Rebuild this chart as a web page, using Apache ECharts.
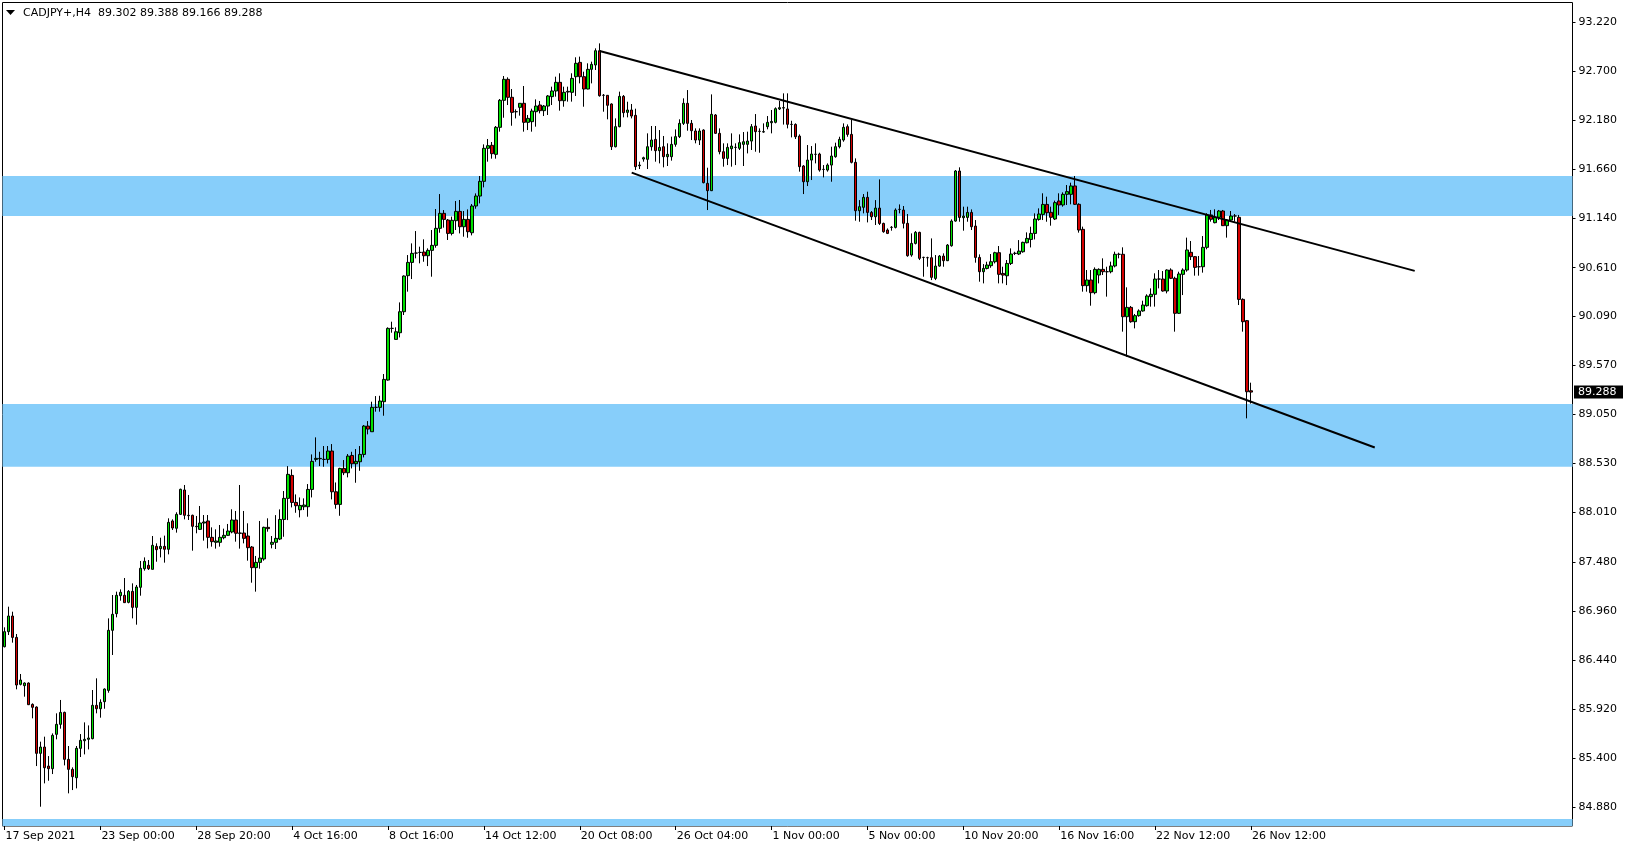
<!DOCTYPE html>
<html>
<head>
<meta charset="utf-8">
<script src="https://cdn.jsdelivr.net/npm/echarts@6.0.0/dist/echarts.min.js"></script>
<style>
html,body{margin:0;padding:0;background:#fff;}
#chart{width:1629px;height:850px;}
</style>
</head>
<body>
<div id="chart"></div>
<script>
// ---- data (CADJPY+, H4) ----
const symbolTitle = 'CADJPY+,H4  89.302 89.388 89.166 89.288';
const tickLabels = ['17 Sep 2021','23 Sep 00:00','28 Sep 20:00','4 Oct 16:00','8 Oct 16:00','14 Oct 12:00','20 Oct 08:00','26 Oct 04:00','1 Nov 00:00','5 Nov 00:00','10 Nov 20:00','16 Nov 16:00','22 Nov 12:00','26 Nov 12:00'];
const tickStep = 24;
const categoryCount = 393;
const yTicks = [93.22,92.70,92.18,91.66,91.14,90.61,90.09,89.57,89.05,88.53,88.01,87.48,86.96,86.44,85.92,85.40,84.88];
const yMin = 84.6781, yMax = 93.4272;
const lastPrice = 89.288;

const opens = [
86.583,86.743,86.909,86.682,86.183,86.169,86.197,85.970,85.942,85.450,85.517,85.315,85.287,85.652,85.758,85.885,85.386,85.280,85.191,85.503,
85.584,85.599,85.606,85.960,85.924,85.999,86.119,86.757,86.934,87.125,87.129,87.054,87.171,87.001,87.214,87.412,87.448,87.405,87.649,87.625,
87.649,87.618,87.919,87.841,87.989,88.248,87.979,87.979,87.862,87.830,87.897,87.919,87.745,87.692,87.692,87.741,87.766,87.802,87.929,87.791,
87.791,87.759,87.642,87.423,87.479,87.515,87.851,87.671,87.692,87.727,87.935,88.159,88.403,88.116,88.038,88.070,88.070,88.254,88.573,88.580,
88.573,88.573,88.662,88.229,88.095,88.477,88.431,88.615,88.527,88.548,88.626,88.927,88.867,89.126,89.126,89.186,89.416,89.965,89.848,89.919,
90.142,90.525,90.666,90.765,90.772,90.776,90.737,90.794,90.847,91.028,91.187,91.116,90.974,91.109,91.208,91.045,91.123,90.981,91.265,91.371,
91.527,91.878,91.910,91.814,92.101,92.388,92.611,92.420,92.267,92.313,92.356,92.154,92.161,92.267,92.338,92.278,92.327,92.427,92.487,92.579,
92.384,92.476,92.473,92.639,92.791,92.639,92.508,92.717,92.763,92.915,92.441,92.441,92.349,91.895,92.108,92.430,92.260,92.285,92.228,91.693,
91.764,91.761,91.895,91.973,91.853,91.895,91.789,91.789,91.920,92.002,92.143,92.356,92.143,92.062,91.966,92.072,91.506,91.428,92.232,92.037,
91.842,91.771,91.874,91.888,91.878,91.920,91.920,91.955,92.115,92.058,92.051,92.108,92.150,92.154,92.296,92.306,92.296,92.132,92.132,92.008,
91.690,91.523,91.753,91.814,91.817,91.654,91.647,91.700,91.789,91.895,91.966,92.108,92.026,91.729,91.215,91.251,91.357,91.197,91.151,91.243,
91.080,91.010,91.038,91.038,91.229,91.222,91.081,90.744,90.868,90.985,90.719,90.716,90.716,90.496,90.627,90.733,90.684,90.843,91.105,91.637,
91.141,91.144,91.197,91.052,90.719,90.567,90.602,90.631,90.673,90.769,90.549,90.524,90.655,90.762,90.755,90.779,90.875,90.910,90.974,91.123,
91.176,91.282,91.198,91.127,91.318,91.276,91.389,91.389,91.478,91.283,91.017,90.419,90.479,90.344,90.532,90.592,90.567,90.567,90.628,90.752,
90.752,90.089,90.188,90.036,90.100,90.150,90.206,90.302,90.327,90.489,90.489,90.362,90.585,90.497,90.125,90.539,90.585,90.773,90.727,90.620,
90.620,90.826,91.170,91.088,91.145,91.212,91.056,91.116,91.159,91.145,90.273,90.047,89.302];

const highs = [
86.789,87.008,86.955,86.718,86.293,86.204,86.204,85.981,85.949,85.574,85.627,85.421,85.662,85.875,86.017,85.893,85.528,85.301,85.528,85.655,
85.779,85.747,86.123,86.247,86.024,86.140,86.884,87.132,87.168,87.192,87.313,87.185,87.256,87.239,87.494,87.532,87.504,87.759,87.681,87.741,
87.763,87.947,87.936,88.011,88.262,88.301,88.195,87.986,87.972,88.078,87.982,87.982,87.851,87.830,87.876,87.837,87.887,88.043,88.025,88.301,
88.025,87.894,87.653,87.547,87.919,87.858,87.947,87.759,87.981,88.042,88.237,88.502,88.467,88.201,88.169,88.159,88.311,88.626,88.807,88.654,
88.715,88.715,88.736,88.328,88.484,88.566,88.630,88.654,88.683,88.715,88.938,88.980,89.186,89.246,89.249,89.480,89.976,90.036,89.976,90.241,
90.528,90.744,90.868,90.999,90.833,90.911,90.815,91.010,91.233,91.392,91.222,91.127,91.152,91.318,91.329,91.212,91.229,91.286,91.399,91.584,
91.920,91.977,91.945,92.115,92.402,92.646,92.632,92.508,92.292,92.356,92.540,92.232,92.299,92.398,92.381,92.338,92.444,92.533,92.639,92.675,
92.533,92.533,92.675,92.845,92.852,92.692,92.781,92.799,92.940,92.993,92.455,92.444,92.356,92.196,92.480,92.444,92.373,92.349,92.299,91.736,
91.789,92.037,92.115,92.115,92.072,92.009,91.931,92.002,92.079,92.186,92.409,92.497,92.179,92.090,92.090,92.080,91.672,92.451,92.242,92.090,
91.931,91.931,92.037,91.931,92.026,92.051,92.055,92.136,92.242,92.090,92.143,92.221,92.285,92.313,92.381,92.462,92.462,92.171,92.143,92.026,
91.700,91.913,91.902,91.931,91.831,91.700,91.718,91.895,91.938,92.001,92.143,92.132,92.179,91.771,91.328,91.392,91.417,91.212,91.328,91.548,
91.088,91.027,91.052,91.240,91.282,91.265,91.180,90.974,90.999,90.992,90.726,90.726,90.921,90.744,90.744,90.762,90.861,91.123,91.647,91.676,
91.258,91.258,91.229,91.116,90.751,90.648,90.673,90.755,90.779,90.840,90.620,90.691,90.815,90.779,90.903,90.886,90.985,91.045,91.187,91.240,
91.400,91.364,91.258,91.322,91.400,91.410,91.488,91.513,91.584,91.294,91.046,90.585,90.585,90.613,90.603,90.709,90.620,90.674,90.780,90.769,
90.826,90.401,90.203,90.118,90.167,90.259,90.327,90.390,90.550,90.585,90.574,90.592,90.603,90.514,90.567,90.603,90.929,90.893,90.734,90.734,
90.946,91.188,91.223,91.230,91.223,91.223,91.127,91.212,91.180,91.170,90.284,90.054,89.388];

const lows = [
86.576,86.707,86.626,86.130,86.172,86.052,85.963,85.822,85.315,84.883,85.131,85.159,85.230,85.599,85.712,85.322,85.025,85.060,85.078,85.411,
85.439,85.492,85.599,85.875,85.829,85.924,86.094,86.495,86.895,87.072,87.051,87.044,86.884,86.817,87.125,87.391,87.398,87.405,87.486,87.532,
87.476,87.564,87.823,87.795,87.982,87.936,87.929,87.603,87.788,87.823,87.710,87.628,87.646,87.625,87.646,87.724,87.759,87.788,87.699,87.625,
87.681,87.497,87.263,87.168,87.412,87.497,87.805,87.628,87.621,87.716,87.751,87.928,88.063,88.006,87.957,88.035,87.964,88.169,88.548,88.502,
88.495,88.530,88.148,88.049,87.974,88.406,88.382,88.477,88.325,88.452,88.594,88.839,88.867,89.080,89.080,89.037,89.409,89.919,89.848,89.869,
90.107,90.355,90.489,90.709,90.656,90.673,90.627,90.514,90.822,90.981,91.035,90.904,90.953,91.010,90.974,90.939,90.928,90.953,91.236,91.293,
91.463,91.736,91.768,91.768,92.055,92.203,92.338,92.118,92.196,92.225,92.055,92.072,92.055,92.108,92.249,92.221,92.232,92.338,92.427,92.278,
92.320,92.374,92.374,92.434,92.568,92.320,92.505,92.568,92.710,92.427,92.267,92.186,91.860,91.888,92.101,92.207,92.207,92.196,91.647,91.658,
91.736,91.658,91.853,91.736,91.718,91.676,91.690,91.747,91.895,91.987,92.126,92.065,91.966,91.931,91.913,91.506,91.222,91.424,92.030,91.814,
91.683,91.700,91.683,91.700,91.860,91.690,91.824,91.860,91.842,91.831,92.044,92.080,92.037,92.143,92.285,92.130,92.090,91.994,91.977,91.630,
91.392,91.477,91.541,91.718,91.630,91.569,91.630,91.523,91.778,91.877,91.948,92.001,91.718,91.109,91.098,91.187,91.091,91.116,91.063,91.063,
90.981,90.967,91.003,91.027,91.187,91.027,90.726,90.726,90.857,90.691,90.514,90.620,90.478,90.478,90.620,90.620,90.680,90.833,91.098,91.098,
91.003,91.098,91.010,90.663,90.461,90.443,90.592,90.609,90.655,90.443,90.443,90.425,90.638,90.744,90.744,90.769,90.868,90.825,90.910,91.109,
91.116,91.098,91.056,91.116,91.170,91.258,91.276,91.283,91.276,90.982,90.355,90.355,90.206,90.327,90.443,90.532,90.302,90.550,90.613,90.709,
89.930,89.664,90.025,89.965,90.089,90.142,90.196,90.196,90.196,90.390,90.355,90.337,90.489,89.930,90.118,90.319,90.567,90.691,90.525,90.525,
90.557,90.805,91.099,91.081,91.116,91.053,90.929,91.106,91.099,90.213,89.930,89.009,89.166];

const closes = [
86.743,86.909,86.682,86.176,86.229,86.197,85.967,85.939,85.450,85.517,85.297,85.287,85.641,85.758,85.885,85.386,85.280,85.202,85.503,85.588,
85.599,85.613,85.960,85.924,85.992,86.133,86.757,86.927,87.129,87.161,87.051,87.171,87.001,87.217,87.416,87.490,87.412,87.660,87.614,87.649,
87.618,87.904,87.844,87.989,88.255,87.979,87.975,87.862,87.858,87.897,87.908,87.745,87.699,87.706,87.745,87.766,87.812,87.929,87.788,87.788,
87.734,87.635,87.423,87.479,87.525,87.851,87.837,87.692,87.734,87.935,88.159,88.414,88.116,88.081,88.084,88.088,88.254,88.552,88.584,88.584,
88.573,88.662,88.229,88.095,88.477,88.431,88.608,88.527,88.552,88.626,88.927,88.895,89.126,89.126,89.193,89.423,89.965,89.965,89.929,90.142,
90.521,90.666,90.762,90.765,90.772,90.737,90.794,90.847,91.028,91.187,91.123,90.974,91.113,91.208,91.045,91.123,90.992,91.265,91.371,91.527,
91.878,91.906,91.821,92.101,92.388,92.611,92.420,92.260,92.267,92.356,92.154,92.196,92.274,92.327,92.278,92.327,92.434,92.487,92.579,92.384,
92.473,92.483,92.621,92.781,92.639,92.508,92.717,92.770,92.915,92.437,92.441,92.335,91.895,92.108,92.430,92.257,92.285,92.221,91.683,91.700,
91.778,91.895,91.966,91.853,91.888,91.789,91.814,91.920,92.002,92.143,92.356,92.143,92.065,91.966,92.062,91.513,91.428,92.239,92.037,91.842,
91.771,91.888,91.902,91.888,91.938,91.948,91.955,92.108,92.055,92.058,92.055,92.154,92.164,92.299,92.310,92.310,92.133,92.132,92.001,91.683,
91.523,91.753,91.817,91.814,91.647,91.654,91.700,91.796,91.895,91.973,92.101,92.026,91.729,91.215,91.258,91.357,91.197,91.151,91.243,91.080,
90.992,90.974,91.038,91.222,91.229,91.081,90.737,90.868,90.985,90.709,90.719,90.716,90.507,90.627,90.733,90.684,90.850,91.105,91.637,91.144,
91.158,91.197,91.045,90.719,90.567,90.602,90.638,90.673,90.769,90.539,90.531,90.655,90.755,90.762,90.786,90.879,90.921,90.974,91.127,91.180,
91.282,91.194,91.145,91.301,91.276,91.389,91.418,91.478,91.283,91.010,90.419,90.479,90.344,90.592,90.592,90.567,90.567,90.628,90.752,90.752,
90.089,90.188,90.036,90.100,90.150,90.213,90.309,90.327,90.489,90.489,90.362,90.585,90.497,90.125,90.543,90.585,90.798,90.727,90.613,90.620,
90.826,91.170,91.124,91.145,91.212,91.056,91.116,91.159,91.159,90.273,90.036,89.292,89.288];

// zones (price ranges) and trend lines ([category index, price])
const zoneUpper = [91.159, 91.584];
const zoneLower = [88.495, 89.161];
const zoneBottom = [84.600, 84.752];
const upperTrend = [[149, 92.912], [353, 90.576]];
const lowerTrend = [[157, 91.620], [343, 88.700]];

// ---- build ----
const categories = [];
for (let i = 0; i < categoryCount; i++) categories.push(String(i));
const candles = opens.map((o, i) => [o, closes[i], lows[i], highs[i]]);
const showTick = (idx) => idx % tickStep === 0 && idx / tickStep < tickLabels.length;

const chart = echarts.init(document.getElementById('chart'), null, {renderer: 'canvas'});
const FONT = 'DejaVu Sans';

chart.setOption({
  animation: false,
  backgroundColor: '#ffffff',
  grid: {left: 2.5, top: 2.5, width: 1570, height: 823.5, show: true, borderColor: '#000', borderWidth: 1, backgroundColor: 'transparent'},
  xAxis: {
    type: 'category', data: categories, boundaryGap: true,
    axisLine: {show: false},
    axisTick: {show: true, alignWithLabel: true, interval: showTick, length: 4, lineStyle: {color: '#000', width: 1}},
    axisLabel: {interval: showTick, formatter: (v, idx) => tickLabels[Math.round(idx / tickStep)] || '',
      align: 'left', margin: 5, color: '#000', fontFamily: FONT, fontSize: 11, padding: [0, 0, 0, 1]},
    splitLine: {show: false}
  },
  yAxis: {
    type: 'value', position: 'right', min: yMin, max: yMax,
    axisLine: {show: false},
    axisTick: {show: true, customValues: yTicks, length: 3, lineStyle: {color: '#000'}},
    axisLabel: {customValues: yTicks, formatter: v => v.toFixed(3), margin: 6, color: '#000', fontFamily: FONT, fontSize: 11},
    splitLine: {show: false}
  },
  series: [
    {
      type: 'line', data: [], z: 1, silent: true,
      markArea: {silent: true, itemStyle: {color: '#87CEFA', opacity: 1}, label: {show: false},
        data: [
          [{yAxis: zoneUpper[0]}, {yAxis: zoneUpper[1]}],
          [{yAxis: zoneLower[0]}, {yAxis: zoneLower[1]}],
          [{yAxis: zoneBottom[0]}, {yAxis: zoneBottom[1]}]
        ]}
    },
    {
      type: 'candlestick', data: candles, z: 3, barWidth: 3,
      itemStyle: {color: '#00e000', color0: '#d40000', borderColor: '#000', borderColor0: '#000', borderColorDoji: '#000', borderWidth: 1},
      markLine: {silent: true, symbol: ['none', 'none'], label: {show: false},
        lineStyle: {color: '#000', width: 2, type: 'solid'},
        emphasis: {disabled: true},
        data: [
          [{coord: upperTrend[0]}, {coord: upperTrend[1]}],
          [{coord: lowerTrend[0]}, {coord: lowerTrend[1]}]
        ]}
    }
  ]
});

const py = chart.convertToPixel({yAxisIndex: 0}, lastPrice);
chart.setOption({
  graphic: [
    {type: 'polygon', shape: {points: [[6, 10], [15, 10], [10.5, 15]]}, style: {fill: '#000'}},
    {type: 'text', x: 23, y: 13, style: {text: symbolTitle, fill: '#000', font: '11px "DejaVu Sans"', verticalAlign: 'middle'}},
    {type: 'rect', shape: {x: 1574, y: Math.round(py) - 6.5, width: 49, height: 13}, style: {fill: '#000'}},
    {type: 'text', x: 1578, y: py, style: {text: lastPrice.toFixed(3), fill: '#fff', font: '11px "DejaVu Sans"', verticalAlign: 'middle'}}
  ]
});
</script>
</body>
</html>
